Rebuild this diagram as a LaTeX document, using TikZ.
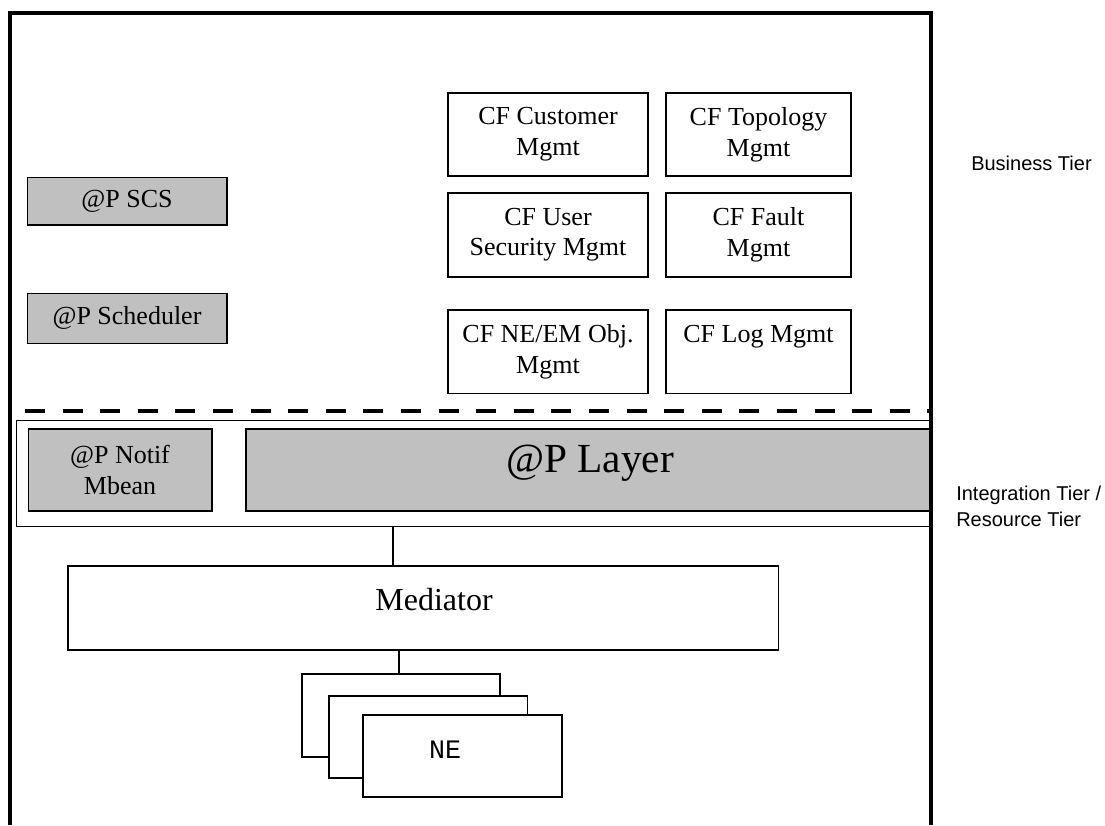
\documentclass[tikz,border=0pt]{standalone}
\usepackage{fontspec}
\setmainfont{Liberation Serif}
\newfontfamily\arialf{Liberation Sans}
\newfontfamily\couf{Liberation Mono}
\definecolor{boxgray}{HTML}{C0C0C0}
\newcommand\rbox[6]{\node[#1, minimum width={(#5-#3)*0.75pt}, minimum height={(#6-#4)*0.75pt}] (#2) at ({(#3+#5)/2},{(#4+#6)/2})}
\tikzset{
  box/.style={draw=black, line width=1.2pt, inner sep=0pt, outer sep=0pt, align=center, font=\fontsize{19.5}{23}\selectfont},
  cf/.style={box, fill=white},
  gbox/.style={box, fill=boxgray},
  ibox/.style={box, fill=white, line width=1.1pt},
  conn/.style={draw=black, line width=1.9pt},
  dashline/.style={draw=black, line width=2.4pt, dash pattern=on 15pt off 13.2pt},
  frame/.style={draw=black, line width=2.6pt, line join=miter},
  tier/.style={font=\arialf\fontsize{15}{20}\selectfont, inner sep=0pt}
}
\begin{document}
\begin{tikzpicture}[x=0.75pt,y=-0.75pt]
\useasboundingbox[fill=white] (0,0) rectangle (1105,825);

% Business tier components
\rbox{cf}{cust}{448}{93}{648}{176}{CF Customer\\Mgmt};
\rbox{cf}{topo}{666}{93}{851}{176}{CF Topology\\Mgmt};
\rbox{cf}{usec}{448}{192.7}{648}{276.7}{CF User\\Security Mgmt};
\rbox{cf}{fault}{666}{192.7}{851}{276.7}{CF Fault\\Mgmt};
\rbox{cf}{neem}{448}{310}{648}{393.3}{CF NE/EM Obj.\\Mgmt};
\rbox{cf}{logm}{666}{310}{851}{393.3}{CF Log Mgmt\\\vphantom{g}};

\rbox{gbox}{scs}{27.3}{177.3}{226.7}{225}{@P SCS};
\rbox{gbox}{sched}{27.3}{293.3}{226.7}{343.3}{@P Scheduler};

% tier separator
\coordinate (dl) at (25,411);
\coordinate (dr) at (931,411);
\draw[dashline] (dl) -- (dr);

% integration tier
\rbox{ibox}{integ}{16.7}{420.5}{931}{526.7}{};
\rbox{gbox}{notif}{28.3}{429}{211.7}{511}{@P Notif\\Mbean};
\rbox{gbox}{layer}{245.7}{429}{931}{511}{};
\node[anchor=base, inner sep=0pt, font=\fontsize{31}{36}\selectfont] (layertxt) at (590,472) {@P Layer};

% mediator
\rbox{cf}{med}{67.7}{565.7}{778.4}{650}{};
\node[anchor=base, inner sep=0pt, font=\fontsize{24}{28}\selectfont] (medtxt) at (434,610.7) {Mediator};

% network elements
\rbox{cf}{ne1}{302}{674}{500}{757}{};
\rbox{cf}{ne2}{329}{695.7}{527.3}{777.7}{};
\rbox{cf}{ne3}{362.7}{715}{561.7}{796.7}{};
\node[anchor=base, inner sep=0pt, font=\couf\fontsize{20}{24}\selectfont] (netxt) at (445,758.3) {NE};

% connectors
\coordinate (c1) at (393,0);
\coordinate (c2) at (399,0);
\draw[conn] (integ.south -| c1) -- (med.north -| c1);
\draw[conn] (med.south -| c2) -- (ne1.north -| c2);

% outer frame
\draw[frame] (10,825) -- (10,13) -- (931,13) -- (931,825);

% tier labels
\node[tier, anchor=base west] (bt) at (971,170) {Business Tier};
\node[tier, anchor=west, align=left] (it) at (956,506.5) {Integration Tier /\\Resource Tier};
\end{tikzpicture}
\end{document}
